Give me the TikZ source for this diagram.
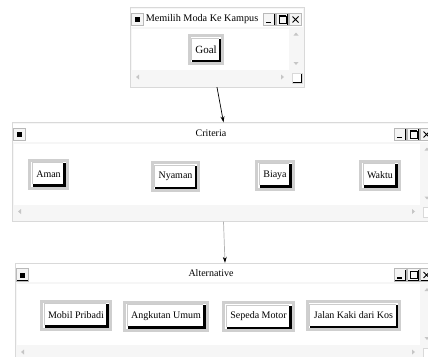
\documentclass[tikz,border=0pt]{standalone}
\usepackage{fontspec}
\setmainfont{Liberation Serif}
\usetikzlibrary{arrows.meta,fit,positioning}

% окно: имя, x1, y1, x2, y2, x заголовка, заголовок
\newcommand{\jendela}[7]{%
  \node[bingkai, fit={(#2,#3) (#4,#5)}] (#1) {};
  \fill[white] (#2+1,#3+1) rectangle (#4-1,#3+19);
  \fill[white] (#2+2,#3+21) rectangle (#4-15,#5-17);
  % заголовок
  \node[anchor=base] (#1-judul) at (#6,#3+13.5) {#7};
  \node[kotakmenu] (#1-menu) at (#2+7.5,#3+12) {};
  \fill[black] ([shift={(-2.5pt,-2.5pt)}]#1-menu.center) rectangle ([shift={(2.5pt,2.5pt)}]#1-menu.center);
  \node[tombolbar] (#1-tutup) at (#4-8.5,#3+12) {};
  \node[tombolbar, left=0pt of #1-tutup] (#1-max) {};
  \node[tombolbar, left=0pt of #1-max] (#1-min) {};
  \draw[line width=1.3pt] ([shift={(-3pt,-3pt)}]#1-min.center) -- ([shift={(2pt,-3pt)}]#1-min.center);
  \draw[line width=0.7pt] ([shift={(-3.5pt,-3.5pt)}]#1-max.center) rectangle ([shift={(3.5pt,3.5pt)}]#1-max.center);
  \draw[line width=1.2pt] ([shift={(-3.5pt,3.5pt)}]#1-max.center) -- ([shift={(3.5pt,3.5pt)}]#1-max.center);
  \draw[line width=1pt] ([shift={(-3pt,-3pt)}]#1-tutup.center) -- ([shift={(3pt,3pt)}]#1-tutup.center)
                        ([shift={(-3pt,3pt)}]#1-tutup.center) -- ([shift={(3pt,-3pt)}]#1-tutup.center);
  % полосы прокрутки
  \fill[gray!45] (#4-8,#3+25) -- ++(-2.5,3) -- ++(5,0) -- cycle;
  \fill[gray!45] (#4-8,#5-22) -- ++(-2.5,-3) -- ++(5,0) -- cycle;
  \fill[gray!45] (#2+6,#5-10) -- ++(3,-2.5) -- ++(0,5) -- cycle;
  \fill[gray!45] (#4-20,#5-10) -- ++(-3,-2.5) -- ++(0,5) -- cycle;
  \node[sudut] (#1-sudut) at (#4-7,#5-9) {};
}

\begin{document}
\begin{tikzpicture}[x=1pt, y=-1pt, font=\fontsize{10}{12}\selectfont,
  bingkai/.style={draw=gray!30, fill=gray!7, inner sep=0pt},
  tombolbar/.style={draw=gray!55, fill=gray!8, line width=0.6pt, minimum size=12.5pt, inner sep=0pt,
    path picture={\draw[black, line width=1.2pt] ([xshift=1pt,yshift=0.6pt]path picture bounding box.south west) -- ([xshift=-0.6pt,yshift=0.6pt]path picture bounding box.south east) -- ([xshift=-0.6pt,yshift=-1pt]path picture bounding box.north east);}},
  kotakmenu/.style={tombolbar},
  sudut/.style={draw=gray!30, fill=white, minimum size=10pt, inner sep=0pt,
    path picture={\draw[black, line width=1.2pt] (path picture bounding box.south west) -- (path picture bounding box.south east) -- (path picture bounding box.north east);}},
  tombol/.style={draw=gray!38, line width=3pt, fill=white, minimum height=28pt, inner xsep=6.5pt,
    path picture={
      \draw[black, line width=2.5pt] ([xshift=3pt,yshift=2.75pt]path picture bounding box.south west) -- ([xshift=-2.75pt,yshift=2.75pt]path picture bounding box.south east) -- ([xshift=-2.75pt,yshift=-3pt]path picture bounding box.north east);
      \draw[gray!40, line width=0.6pt] ([xshift=2.3pt,yshift=4pt]path picture bounding box.south west) -- ([xshift=2.3pt,yshift=-2.3pt]path picture bounding box.north west) -- ([xshift=-4pt,yshift=-2.3pt]path picture bounding box.north east);}},
  panah/.style={-{Stealth[length=6pt,width=4pt,color=black]}, line width=0.7pt}]
\path[use as bounding box, clip] (0,0) rectangle (428,356);
\fill[white] (0,0) rectangle (428,356);

% Цель
\jendela{goalwin}{130}{7.5}{304}{87}{202}{\fontsize{10.2}{12}\selectfont Memilih Moda Ke Kampus}
\node[tombol, font=\fontsize{11}{13}\selectfont, inner xsep=6pt] (goal) at (206,49.5) {Goal};

% Критерии
\jendela{critwin}{12}{122.5}{435}{221.5}{211}{Criteria}
\node[tombol] (aman) at (48.5,174) {Aman};
\node[tombol] (nyaman) at (175.5,176.5) {Nyaman};
\node[tombol] (biaya) at (275,175) {Biaya};
\node[tombol] (waktu) at (380,175) {Waktu};

% Альтернативы
\jendela{altwin}{15}{263}{435}{362}{211}{Alternative}
\node[tombol] (mobil) at (76,315) {Mobil Pribadi};
\node[tombol] (angkutan) at (166,316) {Angkutan Umum};
\node[tombol] (motor) at (258.5,316.5) {Sepeda Motor};
\node[tombol] (jalan) at (353.5,315.5) {Jalan Kaki dari Kos};

\draw[panah] (goalwin.south) -- (critwin.north);
\draw[panah, draw=gray!60] (critwin.south) -- (altwin.north);

\end{tikzpicture}
\end{document}
